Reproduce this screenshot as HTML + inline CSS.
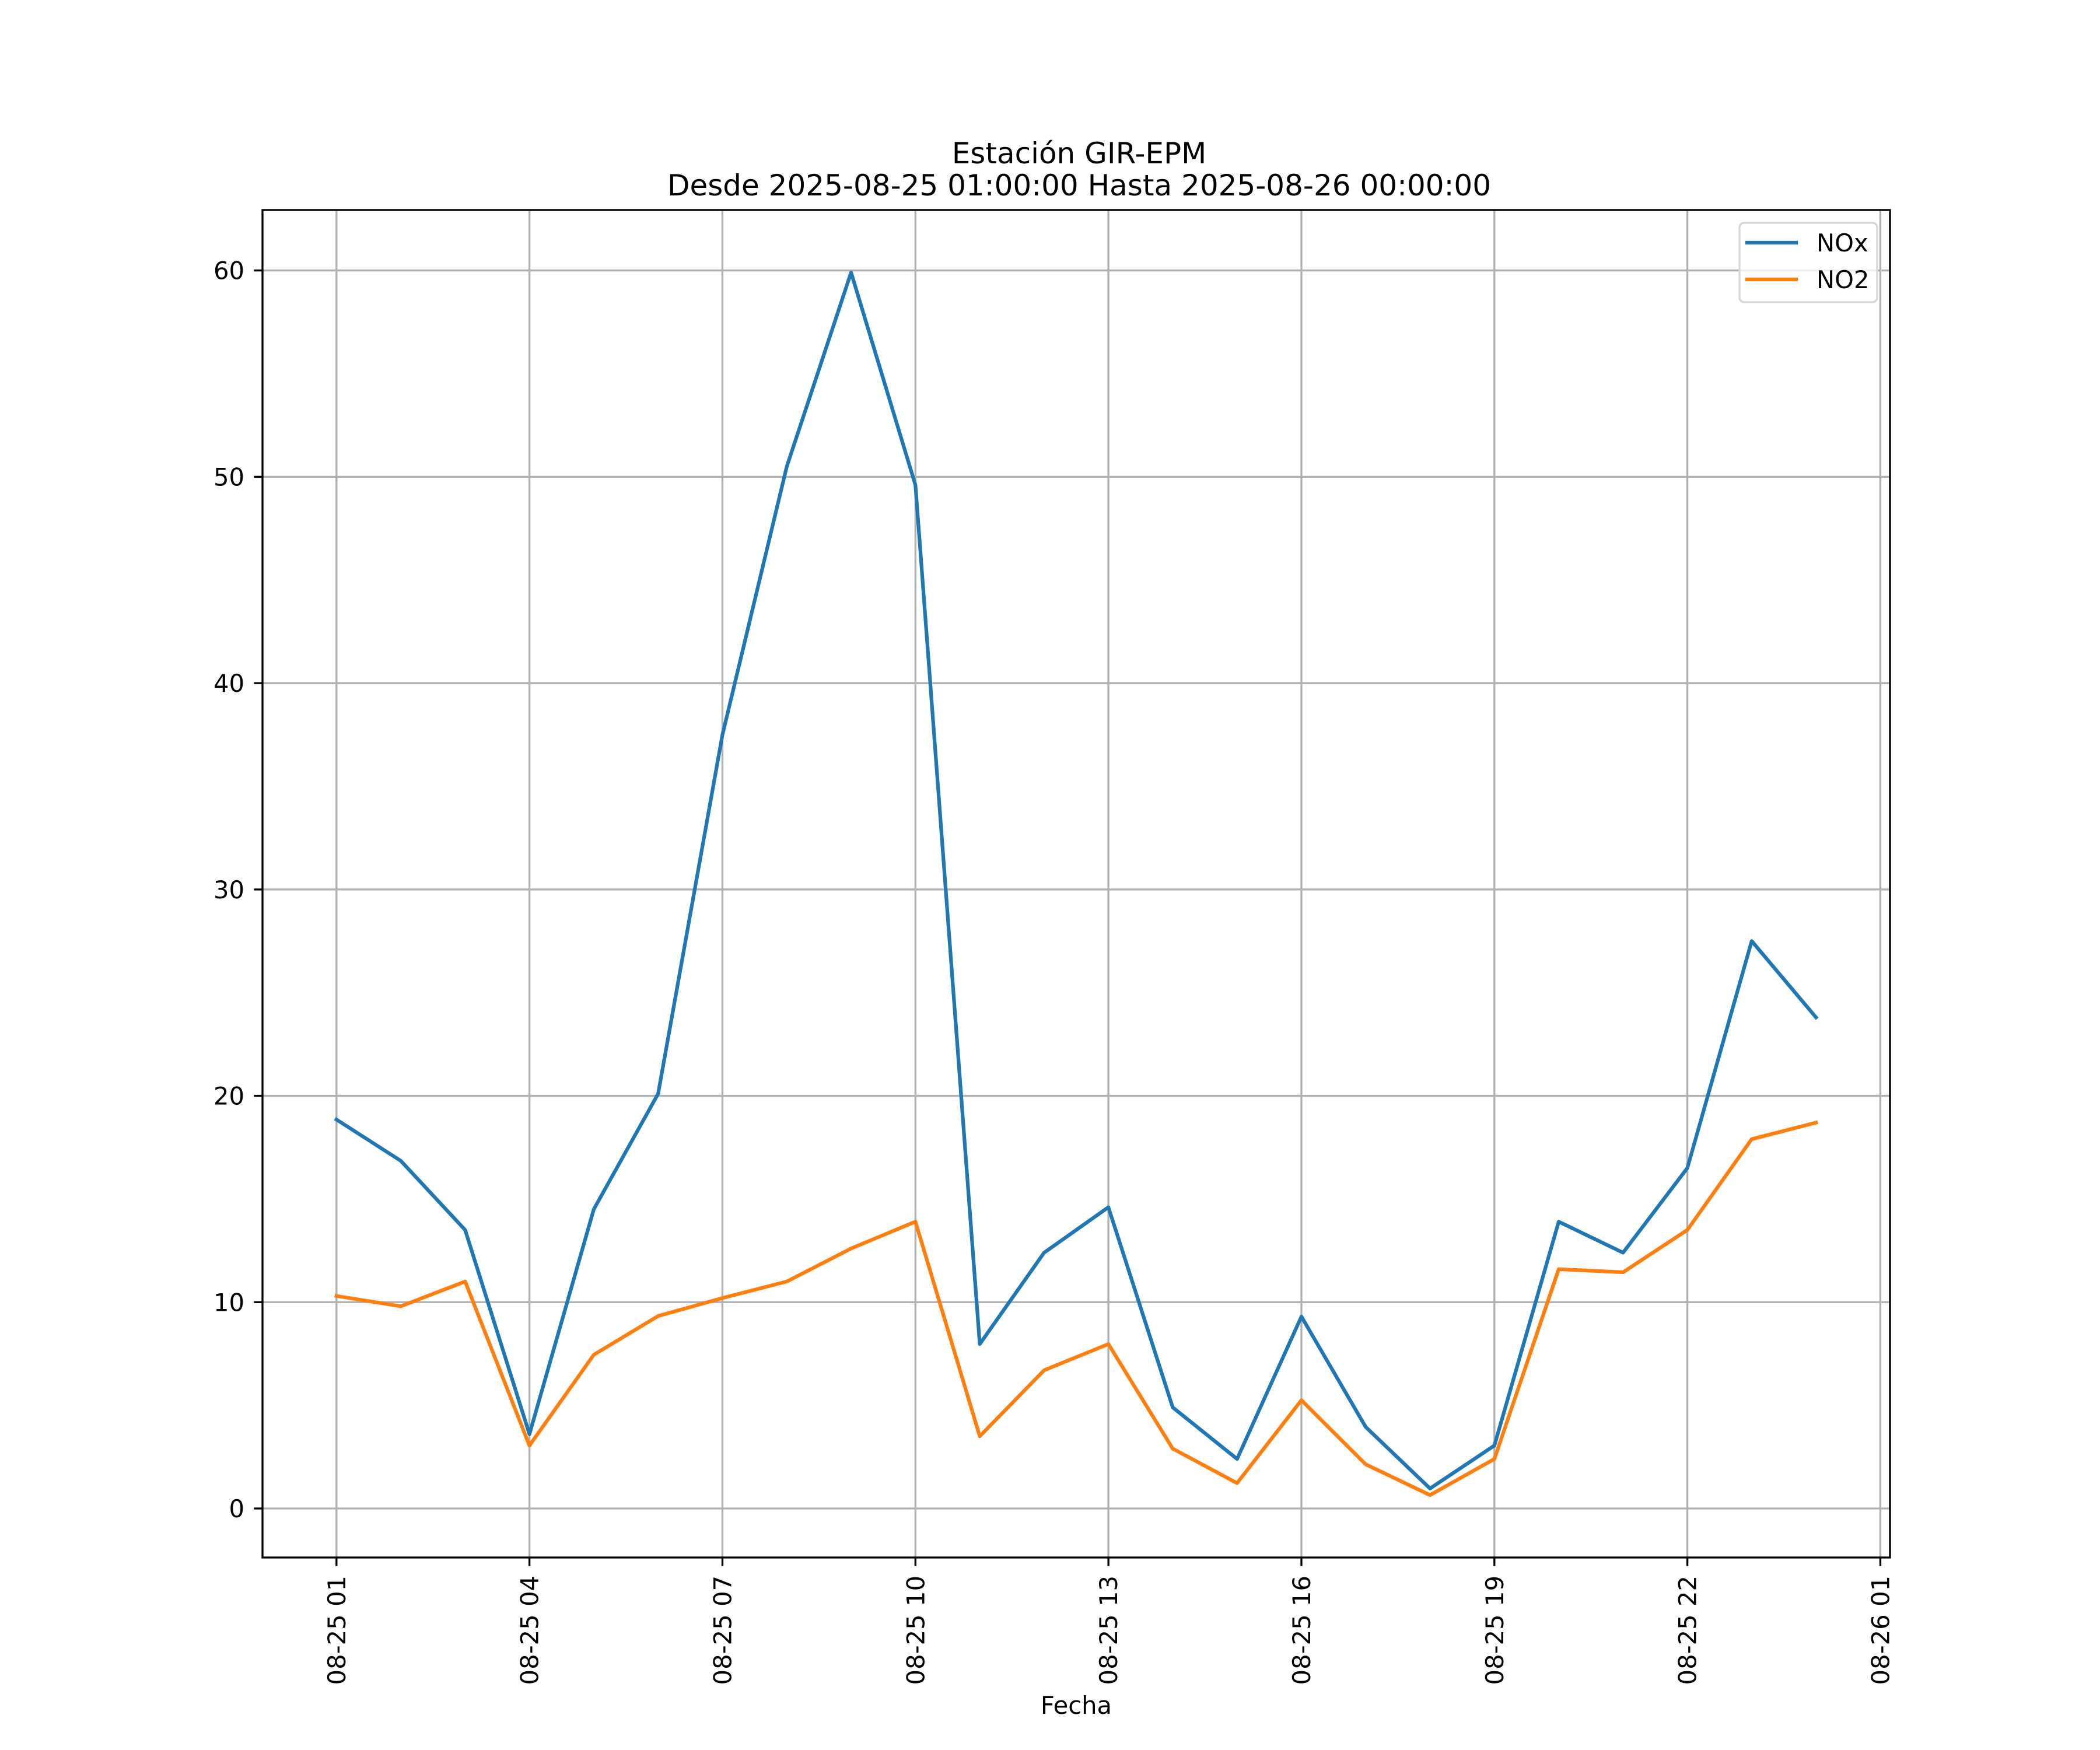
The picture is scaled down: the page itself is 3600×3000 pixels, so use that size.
<!DOCTYPE html>
<html><head><meta charset="utf-8"><style>
html,body{margin:0;padding:0;background:#fff}
svg{display:block;font-family:"DejaVu Sans","Liberation Sans",sans-serif}
</style></head><body>
<svg id="chart" width="3600" height="3000" viewBox="0 0 3600 3000" xmlns="http://www.w3.org/2000/svg">
<rect x="0" y="0" width="3600" height="3000" fill="#fff"/>
<g id="grid"></g>
<g id="series"></g>
<rect x="450" y="360" width="2790" height="2310" fill="none" stroke="#000" stroke-width="3.33"/>
<g id="ticks"></g>
<text x="1850" y="280" font-size="50" text-anchor="middle">Estación GIR-EPM</text>
<text x="1850" y="335" font-size="50" text-anchor="middle">Desde 2025-08-25 01:00:00 Hasta 2025-08-26 00:00:00</text>
<text x="1845" y="2938" font-size="41.7" text-anchor="middle">Fecha</text>
<g>
<rect x="2982" y="382" width="236" height="136" rx="8" fill="#fff" fill-opacity="0.8" stroke="#d6d6d6" stroke-width="3.33"/>
<line x1="2992" y1="416" x2="3082" y2="416" stroke="#1f77b4" stroke-width="6.25"/>
<text x="3114" y="431" font-size="41.7">NOx</text>
<line x1="2992" y1="479" x2="3082" y2="479" stroke="#ff7f0e" stroke-width="6.25"/>
<text x="3114" y="494" font-size="41.7">NO2</text>
</g>
</svg>
<script>
const hours = [0,1,2,3,4,5,6,7,8,9,10,11,12,13,14,15,16,17,18,19,20,21,22,23];
const noxValues = [18.85,16.85,13.5,3.6,14.5,20.1,37.5,50.5,59.9,49.6,7.97,12.4,14.6,4.9,2.4,9.3,3.95,0.97,3.05,13.9,12.4,16.5,27.5,23.8];
const no2Values = [10.3,9.8,11.0,3.05,7.45,9.33,10.2,11.0,12.6,13.9,3.5,6.7,7.97,2.9,1.23,5.25,2.14,0.65,2.4,11.6,11.45,13.5,17.9,18.7];
const yTicks = [0,10,20,30,40,50,60];
const xTickHours = [0,3,6,9,12,15,18,21,24];
const xTickLabels = ["08-25 01","08-25 04","08-25 07","08-25 10","08-25 13","08-25 16","08-25 19","08-25 22","08-26 01"];

const NS = "http://www.w3.org/2000/svg";
const L = 450, R = 3240, T = 360, B = 2670;
const xMin = -1.15, xMax = 24.15, yMin = -2.375, yMax = 62.93;
function xs(h){ return L + (h - xMin) / (xMax - xMin) * (R - L); }
function ys(v){ return B - (v - yMin) / (yMax - yMin) * (B - T); }
function mk(tag, attrs, parent){
  const e = document.createElementNS(NS, tag);
  for (const k in attrs) e.setAttribute(k, attrs[k]);
  parent.appendChild(e);
  return e;
}
const grid = document.getElementById('grid');
const ticks = document.getElementById('ticks');
const series = document.getElementById('series');

yTicks.forEach(v => {
  const y = ys(v);
  const g = mk('line', {x1:L, x2:R, y1:y, y2:y, stroke:'#b0b0b0', 'stroke-width':3.33}, grid);
  
  
  const t = mk('line', {x1:L-14.6, x2:L, y1:y, y2:y, stroke:'#000', 'stroke-width':3.33}, ticks);
  
  
  const lb = mk('text', {x:L-31, y:y+15, 'font-size':41.7, 'text-anchor':'end'}, ticks);
  lb.textContent = v;
  
  
});
xTickHours.forEach((h, i) => {
  const x = xs(h);
  const g = mk('line', {x1:x, x2:x, y1:T, y2:B, stroke:'#b0b0b0', 'stroke-width':3.33}, grid);
  
  
  const t = mk('line', {x1:x, x2:x, y1:B, y2:B+14.6, stroke:'#000', 'stroke-width':3.33}, ticks);
  
  
  const lb = mk('text', {x:0, y:0, 'font-size':41.7, 'text-anchor':'end', transform:'translate(' + (x+15) + ',' + (B+31) + ') rotate(-90)'}, ticks);
  lb.textContent = xTickLabels[i];
  
  
});
function drawLine(vals, color, name){
  const pts = vals.map((v, i) => xs(hours[i]).toFixed(1) + ',' + ys(v).toFixed(1)).join(' ');
  const p = mk('polyline', {points:pts, fill:'none', stroke:color, 'stroke-width':6.25, 'stroke-linejoin':'round', 'stroke-linecap':'square'}, series);
  
  
}
drawLine(noxValues, '#1f77b4', 'nox-line');
drawLine(no2Values, '#ff7f0e', 'no2-line');
</script>
</body></html>
